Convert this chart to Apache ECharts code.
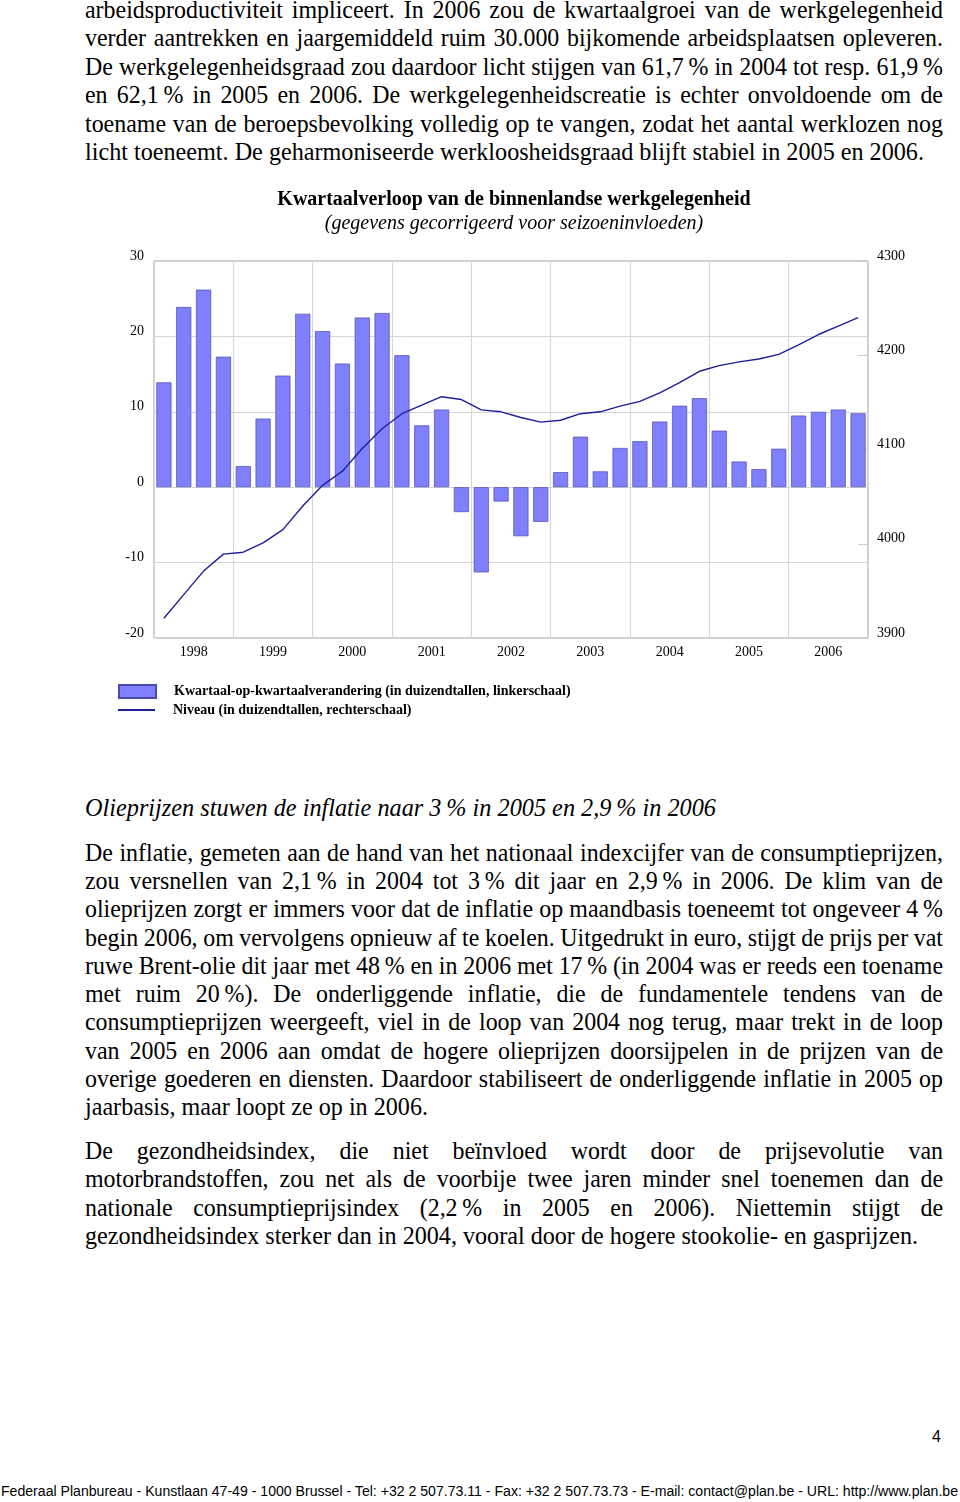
<!DOCTYPE html>
<html><head><meta charset="utf-8">
<script src="https://cdn.jsdelivr.net/npm/echarts@6/dist/echarts.min.js"></script>
<style>
html,body{margin:0;padding:0;background:#fff;}
#page{position:relative;width:960px;height:1502px;overflow:hidden;background:#fff;}
.ln{position:absolute;white-space:nowrap;font-family:"Liberation Serif","Times New Roman",serif;font-size:26px;line-height:28px;height:28px;color:#000;transform-origin:0 50%;}
#chart{position:absolute;left:0;top:170px;width:960px;height:590px;}
</style></head><body><div id="page"><div id="chart"></div></div>
<script>
// ---------- data ----------
const years = ['1998','1999','2000','2001','2002','2003','2004','2005','2006'];
const quarterNames = ['K1','K2','K3','K4'];
const quarterChange = [13.9, 23.9, 26.2, 17.3, 2.8, 9.1, 14.8, 23.0, 20.7, 16.4, 22.5, 23.1,
  17.5, 8.2, 10.3, -3.3, -11.3, -1.9, -6.5, -4.6, 2.0, 6.7, 2.1, 5.2,
  6.1, 8.7, 10.8, 11.8, 7.5, 3.4, 2.4, 5.1, 9.5, 10.0, 10.3, 9.8];
const employmentLevel = [3921, 3946, 3971, 3989, 3991, 4001, 4015, 4040, 4062, 4077, 4101, 4122,
  4138, 4147, 4156, 4153, 4142, 4140, 4134, 4129, 4131, 4138, 4140, 4146,
  4151, 4160, 4171, 4183, 4189, 4193, 4196, 4201, 4211, 4222, 4231, 4240];
const leftTicks = {min: -20, max: 30, interval: 10};
const rightTicks = {min: 3900, max: 4300, interval: 100};
const chartTitle = 'Kwartaalverloop van de binnenlandse werkgelegenheid';
const chartSubtitle = '(gegevens gecorrigeerd voor seizoeninvloeden)';
const seriesNames = ['Kwartaal-op-kwartaalverandering (in duizendtallen, linkerschaal)',
                     'Niveau (in duizendtallen, rechterschaal)'];

// ---------- page text ----------
const N = '\u202f';
const para0 = [
 'arbeidsproductiviteit impliceert. In 2006 zou de kwartaalgroei van de werkgelegenheid',
 'verder aantrekken en jaargemiddeld ruim 30.000 bijkomende arbeidsplaatsen opleveren.',
 'De werkgelegenheidsgraad zou daardoor licht stijgen van 61,7'+N+'% in 2004 tot resp. 61,9'+N+'%',
 'en 62,1'+N+'% in 2005 en 2006. De werkgelegenheidscreatie is echter onvoldoende om de',
 'toename van de beroepsbevolking volledig op te vangen, zodat het aantal werklozen nog',
 'licht toeneemt. De geharmoniseerde werkloosheidsgraad blijft stabiel in 2005 en 2006.'
];
const heading = 'Olieprijzen stuwen de inflatie naar 3'+N+'% in 2005 en 2,9'+N+'% in 2006';
const para1 = [
 'De inflatie, gemeten aan de hand van het nationaal indexcijfer van de consumptieprijzen,',
 'zou versnellen van 2,1'+N+'% in 2004 tot 3'+N+'% dit jaar en 2,9'+N+'% in 2006. De klim van de',
 'olieprijzen zorgt er immers voor dat de inflatie op maandbasis toeneemt tot ongeveer 4'+N+'%',
 'begin 2006, om vervolgens opnieuw af te koelen. Uitgedrukt in euro, stijgt de prijs per vat',
 'ruwe Brent-olie dit jaar met 48'+N+'% en in 2006 met 17'+N+'% (in 2004 was er reeds een toename',
 'met ruim 20'+N+'%). De onderliggende inflatie, die de fundamentele tendens van de',
 'consumptieprijzen weergeeft, viel in de loop van 2004 nog terug, maar trekt in de loop',
 'van 2005 en 2006 aan omdat de hogere olieprijzen doorsijpelen in de prijzen van de',
 'overige goederen en diensten. Daardoor stabiliseert de onderliggende inflatie in 2005 op',
 'jaarbasis, maar loopt ze op in 2006.'
];
const para2 = [
 'De gezondheidsindex, die niet beïnvloed wordt door de prijsevolutie van',
 'motorbrandstoffen, zou net als de voorbije twee jaren minder snel toenemen dan de',
 'nationale consumptieprijsindex (2,2'+N+'% in 2005 en 2006). Niettemin stijgt de',
 'gezondheidsindex sterker dan in 2004, vooral door de hogere stookolie- en gasprijzen.'
];
const footer = 'Federaal Planbureau - Kunstlaan 47-49 - 1000 Brussel - Tel: +32 2 507.73.11 - Fax: +32 2 507.73.73 - E-mail: contact@plan.be - URL: http://www.plan.be';
const pageNumber = '4';

const page = document.getElementById('page');
const BASE = 0.92;
function placeLine(text, left, cy, width, justify, style) {
  const el = document.createElement('div');
  el.className = 'ln';
  el.textContent = text;
  if (style) Object.assign(el.style, style);
  el.style.left = left + 'px';
  el.style.top = (cy - 14) + 'px';
  page.appendChild(el);
  const w = el.getBoundingClientRect().width;
  const n = (text.match(/ /g) || []).length;
  let scale;
  if (justify && n > 0) {
    let c = BASE;
    let ws = (width / c - w) / n;
    if (ws < -1.5) { ws = -1.5; c = width / (w + n * ws); }
    el.style.wordSpacing = ws + 'px';
    scale = c;
  } else if (width) {
    scale = width / w;
  } else scale = 1;
  el.style.transform = 'scaleX(' + scale + ')';
}
function placePara(lines, y0, step, lastWidth) {
  lines.forEach((t, i) => {
    const last = i === lines.length - 1;
    placeLine(t, 85, y0 + i * step, last ? lastWidth : 858, !last);
  });
}
placePara(para0, 10, 28.4, 839);
placeLine(heading, 85, 808, 631, false, {fontStyle: 'italic'});
placePara(para1, 853, 28.22, 343);
placePara(para2, 1151, 28.3, 833);
placeLine(footer, 1, 1491, 957, false, {fontFamily: '"Liberation Sans", Arial, sans-serif', fontSize: '14px'});
placeLine(pageNumber, 932, 1437, null, false, {fontFamily: '"Liberation Sans", Arial, sans-serif', fontSize: '16px'});

// ---------- chart ----------
const quarters = [];
years.forEach(y => quarterNames.forEach(q => quarters.push(y + ' ' + q)));
const serif = 'Liberation Serif';
const tickLabel = {fontFamily: serif, fontSize: 14, color: '#000', verticalAlign: 'bottom', lineHeight: 10,
                   formatter: v => String(v)};
const chart = echarts.init(document.getElementById('chart'), null, {renderer: 'canvas'});
chart.setOption({
  animation: false,
  title: [
    {text: chartTitle, left: 514, top: 20, textAlign: 'center', padding: 0,
     textStyle: {fontFamily: serif, fontWeight: 'bold', fontSize: 20, lineHeight: 20, color: '#000'}},
    {text: chartSubtitle, left: 514, top: 44, textAlign: 'center', padding: 0,
     textStyle: {fontFamily: serif, fontStyle: 'italic', fontWeight: 'normal', fontSize: 20, lineHeight: 20, color: '#000'}}
  ],
  legend: [
    {orient: 'vertical', left: 118, top: 514, padding: 0, itemWidth: 37, itemHeight: 13,
     data: [{name: seriesNames[0], icon: 'rect'}],
     textStyle: {fontFamily: serif, fontWeight: 'bold', fontSize: 14, color: '#000', padding: [2, 0, 0, 13]}},
    {orient: 'vertical', left: 118, top: 533, padding: 0, itemWidth: 37, itemHeight: 2,
     data: [{name: seriesNames[1], icon: 'rect'}],
     textStyle: {fontFamily: serif, fontWeight: 'bold', fontSize: 14, color: '#000', padding: [3, 0, 0, 13]}}
  ],
  grid: {left: 154, right: 92, top: 91, bottom: 122, show: true, borderColor: '#9a9a9a', borderWidth: 1, backgroundColor: 'transparent'},
  xAxis: [
    {type: 'category', data: quarters, position: 'top',
     axisLabel: {show: false}, axisTick: {show: false}, axisLine: {show: false}, splitLine: {show: false}},
    {type: 'category', data: years, position: 'bottom',
     axisLabel: {fontFamily: serif, fontSize: 14, color: '#000', margin: 7},
     axisTick: {show: false}, axisLine: {show: false},
     splitLine: {show: true, lineStyle: {color: '#d6d6d6', width: 1}}}
  ],
  yAxis: [
    {type: 'value', position: 'left', min: leftTicks.min, max: leftTicks.max, interval: leftTicks.interval,
     axisLabel: Object.assign({margin: 10}, tickLabel),
     axisTick: {show: false}, axisLine: {show: false},
     splitLine: {show: true, lineStyle: {color: '#d6d6d6', width: 1}}},
    {type: 'value', position: 'right', min: rightTicks.min, max: rightTicks.max, interval: rightTicks.interval,
     axisLabel: Object.assign({margin: 9}, tickLabel),
     axisTick: {show: true, inside: true, length: 10, lineStyle: {color: '#d0d0d0'}},
     axisLine: {show: false}, splitLine: {show: false}}
  ],
  series: [
    {name: seriesNames[0], type: 'bar', xAxisIndex: 0, yAxisIndex: 0, data: quarterChange,
     barWidth: '76%', itemStyle: {color: '#8080ff', borderColor: '#4a4aa8', borderWidth: 0.7}},
    {name: seriesNames[1], type: 'line', xAxisIndex: 0, yAxisIndex: 1, data: employmentLevel,
     symbol: 'none', showSymbol: false, lineStyle: {color: '#1e1e9a', width: 1.4}, itemStyle: {color: '#1e1e9a'}}
  ]
});
</script></body></html>
